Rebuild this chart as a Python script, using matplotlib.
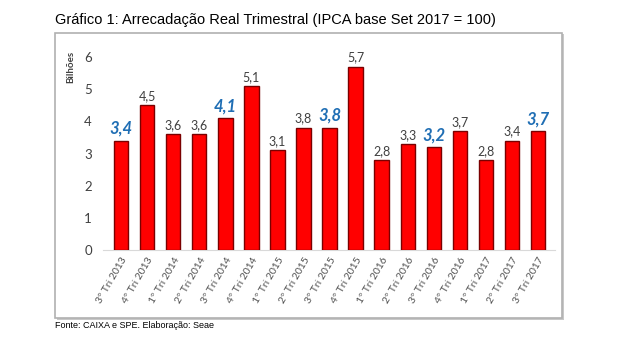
import matplotlib
matplotlib.use('Agg')
import matplotlib.pyplot as plt
from matplotlib.patches import Rectangle

quarters = ['3º Tri 2013', '4º Tri 2013', '1º Tri 2014', '2º Tri 2014', '3º Tri 2014',
            '4º Tri 2014', '1º Tri 2015', '2º Tri 2015', '3º Tri 2015', '4º Tri 2015',
            '1º Tri 2016', '2º Tri 2016', '3º Tri 2016', '4º Tri 2016', '1º Tri 2017',
            '2º Tri 2017', '3º Tri 2017']
values = [3.4, 4.5, 3.6, 3.6, 4.1, 5.1, 3.1, 3.8, 3.8, 5.7, 2.8, 3.3, 3.2, 3.7, 2.8, 3.4, 3.7]
highlight = [0, 4, 8, 12, 16]

plt.rcParams['font.family'] = ['Lato', 'DejaVu Sans']

fig = plt.figure(figsize=(6.2, 3.55), dpi=100)

# outer frame with shadow
fig.patches.append(Rectangle((0.092, 0.098), 0.818, 0.806, transform=fig.transFigure,
                             facecolor='#c8c8c8', edgecolor='none', zorder=0))
fig.patches.append(Rectangle((0.089, 0.104), 0.817, 0.803, transform=fig.transFigure,
                             facecolor='white', edgecolor='#b0b0b0', linewidth=1.2, zorder=1))

ax = fig.add_axes([0.166, 0.296, 0.729, 0.561])
ax.set_zorder(2)
ax.patch.set_alpha(0)

x = range(len(values))
ax.bar(x, values, width=0.55, color='#ff0000', edgecolor='#7a0000', linewidth=1.0, zorder=3)

for i, v in enumerate(values):
    lbl = f'{v:.1f}'.replace('.', ',')
    if i in highlight:
        ax.text(i, v + 0.12, lbl, ha='center', va='bottom', fontsize=12,
                fontweight='bold', fontstyle='italic', color='#1f6eb4')
    else:
        ax.text(i, v + 0.1, lbl, ha='center', va='bottom', fontsize=9, color='#404040')

ax.set_xlim(-0.7, len(values) - 0.35)
ax.set_ylim(0, 6.2)
ax.set_yticks([0, 1, 2, 3, 4, 5, 6])
ax.tick_params(axis='y', length=0, labelsize=9.5, labelcolor='#404040', pad=8)
ax.set_xticks(list(x))
ax.set_xticklabels(quarters, rotation=60, ha='right', rotation_mode='anchor',
                   fontsize=7.5, color='#505050')
ax.tick_params(axis='x', length=0, pad=4)
for s in ['top', 'right', 'left']:
    ax.spines[s].set_visible(False)
ax.spines['bottom'].set_color('#d9d9d9')
ax.set_ylabel('Bilhões', fontsize=7, fontweight='bold', color='#404040')
ax.yaxis.set_label_coords(-0.062, 0.92)

fig.text(0.089, 0.943, 'Gráfico 1: Arrecadação Real Trimestral (IPCA base Set 2017 = 100)',
         fontsize=10.5, family='Liberation Sans', va='center', ha='left')
fig.text(0.089, 0.083, 'Fonte: CAIXA e SPE. Elaboração: Seae',
         fontsize=6.5, family='Liberation Sans', va='center', ha='left')

fig.savefig('out.png', dpi=100)
